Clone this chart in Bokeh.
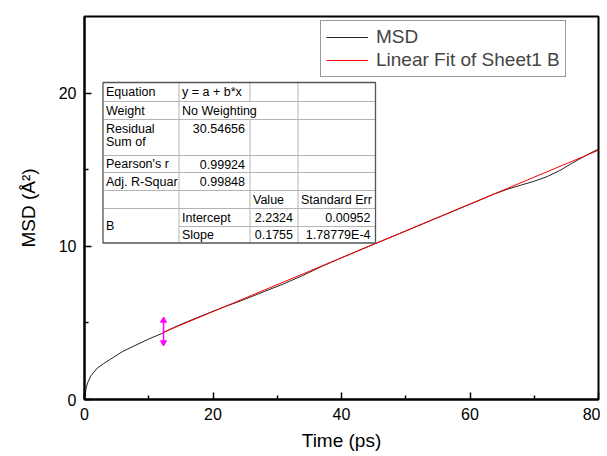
from bokeh.plotting import figure
from bokeh.models import Range1d, FixedTicker, Legend, LegendItem
from bokeh.core.properties import value
from bokeh.embed import file_html
from bokeh.resources import INLINE

# ---- data ----
time_ps = [0, 0.25, 0.5, 1, 2, 3, 4, 6, 8, 10, 12, 14, 16, 18, 20, 22, 25, 28, 31, 34,
           37, 40, 44, 48, 52, 56, 60, 64, 66, 68, 70, 72, 74, 76, 78, 80]
msd = [0, 0.75, 1.1, 1.55, 2.05, 2.35, 2.62, 3.15, 3.55, 3.95, 4.3, 4.72, 5.08, 5.42, 5.76,
       6.08, 6.55, 7.05, 7.55, 8.1, 8.7, 9.25, 9.96, 10.65, 11.35, 12.05, 12.75, 13.45,
       13.75, 14.0, 14.25, 14.55, 14.95, 15.45, 15.92, 16.35]
fit_x = [12.3, 80]
fit_y = [4.39, 16.27]
marker_x = 12.3
marker_y = [3.72, 5.16]

x_ticks = [0, 20, 40, 60, 80]
x_minor = [10, 30, 50, 70]
y_ticks = [0, 10, 20]
y_minor = [5, 15]

table_rows = [
    ["Equation", "y = a + b*x", "", ""],
    ["Weight", "No Weighting", "", ""],
    ["Residual\nSum of", "30.54656", "", ""],
    ["Pearson's r", "0.99924", "", ""],
    ["Adj. R-Squar", "0.99848", "", ""],
    ["", "", "Value", "Standard Err"],
    ["B", "Intercept", "2.2324", "0.00952"],
    ["", "Slope", "0.1755", "1.78779E-4"],
]

FONT = "Liberation Sans"
OFF = 0
W, H = 600, 456
ML, MR, MT, MB = 84, 2, 16, 57
X0, X1, Y0, Y1 = 0, 80, 0, 25
FW, FH = W - ML - MR, H - MT - MB

p = figure(width=W, height=H, output_backend="svg", toolbar_location=None,
           x_range=Range1d(X0, X1), y_range=Range1d(Y0, Y1),
           min_border_left=ML, min_border_right=MR, min_border_top=MT,
           min_border_bottom=MB)
p.grid.visible = False
p.outline_line_color = "black"
p.outline_line_width = 2
p.background_fill_color = "white"
p.border_fill_color = "white"

# axes
for ax in (p.xaxis[0], p.yaxis[0]):
    ax.axis_line_width = 2
    ax.major_tick_in = 7
    ax.major_tick_out = 0
    ax.minor_tick_in = 4
    ax.minor_tick_out = 0
    ax.major_tick_line_width = 1.5
    ax.minor_tick_line_width = 1.5
    ax.major_label_text_font = FONT
    ax.major_label_text_font_size = "16px"
    ax.major_label_text_color = "black"
    ax.axis_label_text_font = FONT
    ax.axis_label_text_font_size = "19px"
    ax.axis_label_text_font_style = "normal"
    ax.axis_label_text_color = "black"
    ax.major_label_standoff = 8

p.xaxis.ticker = FixedTicker(ticks=x_ticks, minor_ticks=x_minor)
p.yaxis.ticker = FixedTicker(ticks=y_ticks, minor_ticks=y_minor)
p.xaxis.axis_label = "Time (ps)"
p.yaxis.axis_label = "MSD (Å²)"
p.xaxis.axis_label_standoff = 7
p.yaxis.axis_label_standoff = 17


def px(sx):
    # screenshot x pixel -> data x
    return X0 + (sx - OFF - ML) * (X1 - X0) / FW


def py(sy):
    return Y0 + (H - MB + OFF - sy) * (Y1 - Y0) / FH


# curves
r_msd = p.line(time_ps, msd, line_color="#222222", line_width=1)
r_fit = p.line(fit_x, fit_y, line_color="#ff0000", line_width=1)

# magenta marker
p.segment(x0=[marker_x], y0=[marker_y[0]], x1=[marker_x], y1=[marker_y[1]],
          line_color="#ff00ff", line_width=1.5)
p.scatter([marker_x], [marker_y[1]], marker="triangle", size=6,
          fill_color="#ff00ff", line_color="#ff00ff")
p.scatter([marker_x], [marker_y[0]], marker="inverted_triangle", size=6,
          fill_color="#ff00ff", line_color="#ff00ff")

# legend
legend = Legend(items=[LegendItem(label="MSD", renderers=[r_msd]),
                       LegendItem(label="Linear Fit of Sheet1 B", renderers=[r_fit])],
                location=(320 - OFF - ML, H - MB + OFF - 77))
legend.border_line_color = "#333333"
legend.border_line_width = 1
legend.background_fill_alpha = 1
legend.label_text_font = FONT
legend.label_text_font_size = "19px"
legend.glyph_width = 42
legend.glyph_height = 20
legend.label_height = 20
legend.label_standoff = 8
legend.spacing = 1
legend.padding = 5
legend.margin = 0
p.add_layout(legend, "center")

# table
col_x = [102.5, 178.5, 249.5, 297.5, 375]
row_y = [82, 101, 119, 155, 172, 190, 208, 226, 242.5]
p.quad(left=[px(col_x[0])], right=[px(col_x[-1])], top=[py(row_y[0])], bottom=[py(row_y[-1])],
       fill_color="white", line_color=None)
grid_c = "#b4b4b4"
# horizontal lines
hx0, hy0, hx1, hy1 = [], [], [], []
for i, yy in enumerate(row_y[1:-1], start=1):
    start = col_x[1] if i == 7 else col_x[0]
    hx0.append(px(start)); hx1.append(px(col_x[-1])); hy0.append(py(yy)); hy1.append(py(yy))
p.segment(hx0, hy0, hx1, hy1, line_color=grid_c, line_width=1)
# vertical lines
vx0, vy0, vx1, vy1 = [], [], [], []
for j, xx in enumerate(col_x[1:-1], start=1):
    for i in range(len(row_y) - 1):
        if j == 2 and i == 1:
            continue
        vx0.append(px(xx)); vx1.append(px(xx)); vy0.append(py(row_y[i])); vy1.append(py(row_y[i + 1]))
p.segment(vx0, vy0, vx1, vy1, line_color=grid_c, line_width=1)
# border
p.quad(left=[px(col_x[0])], right=[px(col_x[-1])], top=[py(row_y[0])], bottom=[py(row_y[-1])],
       fill_color=None, line_color="#555555", line_width=1.3)

lx, ly, lt = [], [], []
rx, ry, rt = [], [], []
for i, row in enumerate(table_rows):
    top = row_y[i]
    for j, cell in enumerate(row):
        if not cell:
            continue
        if j == 0 and cell == "B":
            cy = (row_y[6] + row_y[8]) / 2
            lx.append(px(col_x[0] + 3)); ly.append(py(cy)); lt.append(cell)
            continue
        if "\n" in cell:
            for k, part in enumerate(cell.split("\n")):
                lx.append(px(col_x[j] + 3)); ly.append(py(top + 9 + k * 13)); lt.append(part)
            continue
        cy = top + (row_y[i + 1] - top) / 2
        if i == 2:
            cy = top + 9
        numeric = cell[0].isdigit() and i != 5
        if numeric:
            rx.append(px(col_x[j + 1] - 5)); ry.append(py(cy)); rt.append(cell)
        else:
            lx.append(px(col_x[j] + 3)); ly.append(py(cy)); lt.append(cell)
p.text(lx, ly, text=lt, text_font=value(FONT), text_font_size="12.5px",
       text_baseline="middle", text_align="left", text_color="black")
p.text(rx, ry, text=rt, text_font=value(FONT), text_font_size="12.5px",
       text_baseline="middle", text_align="right", text_color="black")

open("out.html", "w").write(file_html(p, INLINE))
